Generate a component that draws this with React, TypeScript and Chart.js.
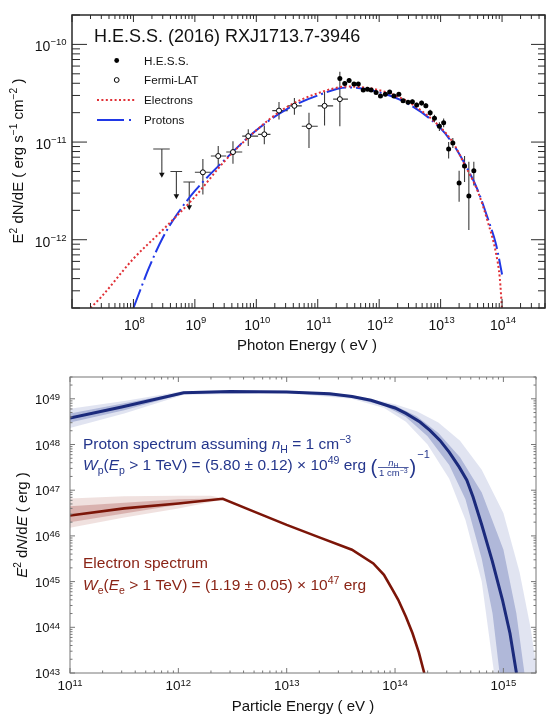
import React, { useEffect, useRef } from 'react';
import { Chart, registerables } from 'chart.js';

Chart.register(...registerables);

const FONT = '"Liberation Sans", Arial, Helvetica, sans-serif';

// ================= TOP PANEL DATA (photon SED) =================
const hessE = [2.29e11, 2.75e11, 3.24e11, 3.89e11, 4.57e11, 5.5e11, 6.46e11, 7.41e11, 8.91e11, 1.05e12, 1.26e12, 1.48e12, 1.74e12, 2.09e12, 2.45e12, 2.95e12, 3.47e12, 4.07e12, 4.9e12, 5.75e12, 6.76e12, 7.94e12, 9.55e12, 1.12e13, 1.35e13, 1.58e13, 2.0e13, 2.45e13, 2.88e13, 3.47e13];
const hessF = [4.47e-11, 3.98e-11, 4.27e-11, 3.94e-11, 3.94e-11, 3.42e-11, 3.48e-11, 3.42e-11, 3.21e-11, 2.96e-11, 3.09e-11, 3.26e-11, 2.96e-11, 3.09e-11, 2.65e-11, 2.56e-11, 2.59e-11, 2.4e-11, 2.51e-11, 2.36e-11, 2.0e-11, 1.75e-11, 1.45e-11, 1.58e-11, 8.5e-12, 9.8e-12, 3.8e-12, 5.7e-12, 2.8e-12, 5.1e-12];
const hessFLo = [4.2e-11, 3.8e-11, 4.05e-11, 3.75e-11, 3.75e-11, 3.27e-11, 3.33e-11, 3.27e-11, 3.07e-11, 2.83e-11, 2.95e-11, 3.12e-11, 2.82e-11, 2.95e-11, 2.52e-11, 2.43e-11, 2.46e-11, 2.27e-11, 2.37e-11, 2.22e-11, 1.86e-11, 1.6e-11, 1.3e-11, 1.42e-11, 6.8e-12, 8.7e-12, 2.45e-12, 3.9e-12, 1.26e-12, 3.6e-12];
const hessFHi = [4.75e-11, 4.17e-11, 4.5e-11, 4.13e-11, 4.13e-11, 3.57e-11, 3.63e-11, 3.57e-11, 3.35e-11, 3.1e-11, 3.23e-11, 3.4e-11, 3.1e-11, 3.23e-11, 2.78e-11, 2.69e-11, 2.72e-11, 2.53e-11, 2.65e-11, 2.5e-11, 2.14e-11, 1.9e-11, 1.6e-11, 1.74e-11, 1.0e-11, 1.1e-11, 5.1e-12, 7.2e-12, 6.3e-12, 6.3e-12];

const fermiE = [1.35e9, 2.4e9, 4.17e9, 7.4e9, 1.35e10, 2.34e10, 4.17e10, 7.2e10, 1.29e11, 2.29e11];
const fermiELo = [1.0e9, 1.82e9, 3.24e9, 5.9e9, 1.07e10, 1.82e10, 3.24e10, 5.5e10, 1.0e11, 1.78e11];
const fermiEHi = [1.82e9, 3.24e9, 5.9e9, 1.07e10, 1.7e10, 3.24e10, 5.5e10, 1.0e11, 1.78e11, 3.1e11];
const fermiF = [4.9e-12, 7.2e-12, 7.9e-12, 1.15e-11, 1.2e-11, 2.1e-11, 2.35e-11, 1.45e-11, 2.35e-11, 2.75e-11];
const fermiFLo = [2.9e-12, 5.6e-12, 6.0e-12, 9.1e-12, 9.5e-12, 1.7e-11, 1.9e-11, 8.7e-12, 1.48e-11, 1.45e-11];
const fermiFHi = [6.7e-12, 9.1e-12, 1.02e-11, 1.35e-11, 1.48e-11, 2.57e-11, 2.82e-11, 2.0e-11, 3.3e-11, 5.25e-11];

const ulE = [2.9e8, 5.0e8, 8.1e8];
const ulELo = [2.1e8, 4.0e8, 6.5e8];
const ulEHi = [3.9e8, 6.2e8, 1.0e9];
const ulF = [8.5e-12, 5.0e-12, 3.9e-12];
const ulTip = [4.3e-12, 2.6e-12, 2.0e-12];

const electronModelE = [2e7, 3e7, 1e8, 3e8, 1e9, 3e9, 1e10, 3e10, 1e11, 3e11, 1e12, 3e12, 1e13, 1.6e13, 2.5e13, 4e13, 6e13, 8e13, 9.2e13, 1e14];
const electronModelF = [2.0e-13, 2.6e-13, 6.4e-13, 1.26e-12, 2.75e-12, 6.3e-12, 1.32e-11, 2.24e-11, 3.16e-11, 3.7e-11, 3.4e-11, 2.57e-11, 1.41e-11, 9.8e-12, 5.75e-12, 3.16e-12, 1.45e-12, 7.2e-13, 4.0e-13, 1.9e-13];
const protonModelE = [1e8, 1.8e8, 3e8, 5e8, 1e9, 3e9, 1e10, 3e10, 1e11, 3e11, 1e12, 3e12, 1e13, 1.6e13, 2.5e13, 4e13, 6e13, 8e13, 1e14];
const protonModelF = [2.0e-13, 5.2e-13, 1.05e-12, 1.78e-12, 3.16e-12, 6.5e-12, 1.32e-11, 2.14e-11, 3.0e-11, 3.63e-11, 3.24e-11, 2.45e-11, 1.38e-11, 9.5e-12, 5.9e-12, 3.24e-12, 1.58e-12, 8.9e-13, 4.4e-13];

const topXTickVals = [1e8, 1e9, 1e10, 1e11, 1e12, 1e13, 1e14];
const topXTickExp = ['8', '9', '10', '11', '12', '13', '14'];
const topYTickVals = [1e-10, 1e-11, 1e-12];
const topYTickExp = ['\u221210', '\u221211', '\u221212'];

// ================= BOTTOM PANEL DATA (particle spectra) =================
const protonSpecE = [1e11, 3e11, 1.12e12, 3e12, 1e13, 2.5e13, 4e13, 6e13, 1e14, 1.26e14, 1.7e14, 2.1e14, 2.6e14, 3.16e14, 3.9e14, 4.6e14, 5.25e14, 6.3e14, 7.9e14, 9.8e14, 1.15e15, 1.32e15];
const protonSpecW = [3.8e48, 6.6e48, 1.35e49, 1.45e49, 1.41e49, 1.29e49, 1.12e49, 9.3e48, 6.3e48, 4.8e48, 3.1e48, 2.04e48, 1.23e48, 6.8e47, 3.24e47, 1.66e47, 7.1e46, 1.78e46, 2.8e45, 4.0e44, 7.4e43, 1.0e43];
const electronSpecE = [1e11, 3.16e11, 1e12, 2.57e12, 5e12, 1e13, 2e13, 4e13, 6.3e13, 7.9e13, 9.5e13, 1.07e14, 1.26e14, 1.45e14, 1.66e14, 1.86e14];
const electronSpecW = [2.8e46, 4.0e46, 5.1e46, 6.5e46, 3.4e46, 1.74e46, 9.3e45, 5.0e45, 2.5e45, 1.41e45, 6.6e44, 4.0e44, 1.7e44, 7.4e43, 2.8e43, 1.0e43];

// band outlines (log10 E, log10 W)
const protonBandOuter = [
  [11.0, 48.78], [11.5, 48.95], [12.05, 49.17], [13.0, 49.18], [13.6, 49.09], [14.0, 48.88], [14.2, 48.73], [14.4, 48.48], [14.6, 48.08], [14.8, 47.45], [15.0, 46.5], [15.15, 45.2], [15.25, 44.0], [15.32, 42.9],
  [14.92, 42.9], [14.8, 45.0], [14.65, 46.35], [14.5, 47.25], [14.3, 48.0], [14.1, 48.5], [13.9, 48.8], [13.6, 49.0], [13.0, 49.12], [12.05, 49.09], [11.5, 48.68], [11.0, 48.36],
];
const protonBandInner = [
  [11.0, 48.68], [11.5, 48.9], [12.05, 49.15], [13.0, 49.17], [13.6, 49.08], [14.0, 48.85], [14.2, 48.62], [14.4, 48.25], [14.6, 47.72], [14.8, 46.95], [15.0, 45.7], [15.12, 44.3], [15.2, 42.9],
  [14.97, 42.9], [14.9, 44.3], [14.8, 45.5], [14.65, 46.8], [14.5, 47.55], [14.3, 48.18], [14.1, 48.6], [13.9, 48.85], [13.6, 49.03], [13.0, 49.13], [12.05, 49.11], [11.5, 48.75], [11.0, 48.48],
];
const electronBandOuter = [
  [11.0, 46.82], [11.5, 46.87], [12.0, 46.88], [12.3, 46.88], [12.45, 46.81], [12.3, 46.74], [12.0, 46.6], [11.5, 46.4], [11.0, 46.18],
];
const electronBandInner = [
  [11.0, 46.65], [12.0, 46.8], [12.41, 46.82], [12.0, 46.68], [11.0, 46.3],
];

const botXTickVals = [1e11, 1e12, 1e13, 1e14, 1e15];
const botXTickExp = ['11', '12', '13', '14', '15'];
const botYTickVals = [1e43, 1e44, 1e45, 1e46, 1e47, 1e48, 1e49];
const botYTickExp = ['43', '44', '45', '46', '47', '48', '49'];

// ================= helpers =================
type Seg = { t: string; it?: boolean; sup?: boolean; sub?: boolean; size?: number; rise?: number };

function segFont(s: Seg, base: number) {
  const sz = s.size ?? (s.sup || s.sub ? base * 0.68 : base);
  return `${s.it ? 'italic ' : ''}${sz}px ${FONT}`;
}
function richWidth(ctx: CanvasRenderingContext2D, segs: Seg[], base: number) {
  let w = 0;
  for (const s of segs) {
    ctx.font = segFont(s, base);
    w += ctx.measureText(s.t).width;
  }
  return w;
}
function drawRich(ctx: CanvasRenderingContext2D, segs: Seg[], x: number, y: number, base: number, align: 'left' | 'center' | 'right', color: string) {
  const w = richWidth(ctx, segs, base);
  let cx = align === 'left' ? x : align === 'center' ? x - w / 2 : x - w;
  ctx.fillStyle = color;
  ctx.textAlign = 'left';
  ctx.textBaseline = 'alphabetic';
  for (const s of segs) {
    ctx.font = segFont(s, base);
    const dy = s.rise !== undefined ? -s.rise : s.sup ? -base * 0.4 : s.sub ? base * 0.25 : 0;
    ctx.fillText(s.t, cx, y + dy);
    cx += ctx.measureText(s.t).width;
  }
  return cx;
}

function logTicks(min: number, max: number) {
  const out: { v: number; major: boolean }[] = [];
  const d0 = Math.floor(Math.log10(min));
  const d1 = Math.ceil(Math.log10(max));
  for (let d = d0; d <= d1; d++) {
    for (let k = 1; k <= 9; k++) {
      const v = k * Math.pow(10, d);
      if (v >= min * 0.9999 && v <= max * 1.0001) out.push({ v, major: k === 1 });
    }
  }
  return out;
}

type TickOpts = {
  color: string; frameWidth: number; tickWidth: number;
  bMaj: number; bMin: number; tMaj: number; tMin: number;
  lMaj: number; lMin: number; rMaj: number; rMin: number;
};
function drawFrameTicks(chart: any, o: TickOpts) {
  const { ctx, chartArea: a, scales } = chart;
  const xs = scales.x, ys = scales.y;
  ctx.save();
  ctx.strokeStyle = o.color;
  ctx.lineWidth = o.tickWidth;
  ctx.beginPath();
  for (const t of logTicks(xs.min, xs.max)) {
    const p = xs.getPixelForValue(t.v);
    ctx.moveTo(p, a.bottom);
    ctx.lineTo(p, a.bottom - (t.major ? o.bMaj : o.bMin));
    ctx.moveTo(p, a.top);
    ctx.lineTo(p, a.top + (t.major ? o.tMaj : o.tMin));
  }
  for (const t of logTicks(ys.min, ys.max)) {
    const p = ys.getPixelForValue(t.v);
    ctx.moveTo(a.left, p);
    ctx.lineTo(a.left + (t.major ? o.lMaj : o.lMin), p);
    ctx.moveTo(a.right, p);
    ctx.lineTo(a.right - (t.major ? o.rMaj : o.rMin), p);
  }
  ctx.stroke();
  ctx.lineWidth = o.frameWidth;
  ctx.strokeRect(a.left, a.top, a.right - a.left, a.bottom - a.top);
  ctx.restore();
}

function drawPow(ctx: CanvasRenderingContext2D, x: number, y: number, exp: string, base: number, expSize: number, rise: number, align: 'center' | 'right', color: string) {
  const segs: Seg[] = [{ t: '10' }, { t: exp, size: expSize, rise }];
  drawRich(ctx, segs, x, y, base, align, color);
}

// ================= TOP CHART =================
function topConfig(): any {
  const decor = {
    id: 'topDecor',
    beforeDatasetsDraw(chart: any) {
      const { ctx, chartArea: a } = chart;
      const xs = chart.scales.x, ys = chart.scales.y;
      const px = (v: number) => xs.getPixelForValue(v);
      const py = (v: number) => ys.getPixelForValue(v);
      ctx.save();
      ctx.beginPath();
      ctx.rect(a.left, a.top, a.right - a.left, a.bottom - a.top);
      ctx.clip();
      ctx.strokeStyle = '#3c3c3c';
      ctx.lineWidth = 1.1;
      ctx.beginPath();
      fermiE.forEach((e, i) => {
        const x = px(e), y = py(fermiF[i]);
        ctx.moveTo(px(fermiELo[i]), y);
        ctx.lineTo(px(fermiEHi[i]), y);
        ctx.moveTo(x, py(fermiFLo[i]));
        ctx.lineTo(x, py(fermiFHi[i]));
      });
      hessE.forEach((e, i) => {
        const x = px(e);
        ctx.moveTo(x, py(hessFLo[i]));
        ctx.lineTo(x, py(hessFHi[i]));
      });
      ulE.forEach((e, i) => {
        const x = px(e), yb = py(ulF[i]), yt = py(ulTip[i]);
        ctx.moveTo(px(ulELo[i]), yb);
        ctx.lineTo(px(ulEHi[i]), yb);
        ctx.moveTo(x, yb);
        ctx.lineTo(x, yt - 4);
      });
      ctx.stroke();
      ctx.fillStyle = '#111';
      ulE.forEach((e, i) => {
        const x = px(e), yt = py(ulTip[i]);
        ctx.beginPath();
        ctx.moveTo(x - 2.8, yt - 5);
        ctx.lineTo(x + 2.8, yt - 5);
        ctx.lineTo(x, yt);
        ctx.closePath();
        ctx.fill();
      });
      ctx.restore();
    },
    afterDraw(chart: any) {
      const { ctx, chartArea: a } = chart;
      const xs = chart.scales.x, ys = chart.scales.y;
      drawFrameTicks(chart, {
        color: '#2a2a2a', frameWidth: 1.5, tickWidth: 1,
        bMaj: 9, bMin: 5, tMaj: 7, tMin: 4, lMaj: 15, lMin: 8, rMaj: 14, rMin: 7,
      });
      ctx.save();
      // tick labels
      topXTickVals.forEach((v, i) => {
        drawPow(ctx, xs.getPixelForValue(v) + 1, a.bottom + 22, topXTickExp[i], 14, 9.5, 7, 'center', '#111');
      });
      topYTickVals.forEach((v, i) => {
        drawPow(ctx, 66.5, ys.getPixelForValue(v) + 7, topYTickExp[i], 14, 9.5, 6, 'right', '#111');
      });
      // axis titles
      drawRich(ctx, [{ t: 'Photon Energy ( eV )' }], 307, 350, 15, 'center', '#111');
      ctx.save();
      ctx.translate(23, 161);
      ctx.rotate(-Math.PI / 2);
      drawRich(ctx, [
        { t: 'E' }, { t: '2', sup: true }, { t: ' dN/dE ( erg s' }, { t: '\u22121', sup: true },
        { t: ' cm' }, { t: '\u22122', sup: true }, { t: ' )' },
      ], 0, 0, 15, 'center', '#111');
      ctx.restore();
      // title
      drawRich(ctx, [{ t: 'H.E.S.S. (2016) RXJ1713.7-3946' }], 94, 42, 18, 'left', '#111');
      // legend
      const lx = 144;
      drawRich(ctx, [{ t: 'H.E.S.S.' }], lx, 65, 11.7, 'left', '#111');
      drawRich(ctx, [{ t: 'Fermi-LAT' }], lx, 84, 11.7, 'left', '#111');
      drawRich(ctx, [{ t: 'Electrons' }], lx, 104, 11.7, 'left', '#111');
      drawRich(ctx, [{ t: 'Protons' }], lx, 124, 11.7, 'left', '#111');
      ctx.fillStyle = '#000';
      ctx.beginPath();
      ctx.arc(116.7, 60.5, 2.4, 0, Math.PI * 2);
      ctx.fill();
      ctx.strokeStyle = '#000';
      ctx.lineWidth = 1;
      ctx.beginPath();
      ctx.arc(116.7, 80, 2.4, 0, Math.PI * 2);
      ctx.stroke();
      ctx.strokeStyle = '#e03036';
      ctx.lineWidth = 2;
      ctx.setLineDash([2, 2.4]);
      ctx.beginPath();
      ctx.moveTo(97, 100);
      ctx.lineTo(135, 100);
      ctx.stroke();
      ctx.setLineDash([]);
      ctx.strokeStyle = '#2038e6';
      ctx.beginPath();
      ctx.moveTo(97, 120);
      ctx.lineTo(124, 120);
      ctx.moveTo(129, 120);
      ctx.lineTo(131, 120);
      ctx.stroke();
      ctx.restore();
    },
  };

  return {
    type: 'line',
    data: {
      datasets: [
        {
          label: 'H.E.S.S.',
          data: hessE.map((x, i) => ({ x, y: hessF[i] })),
          showLine: false, pointRadius: 2.5, pointBackgroundColor: '#000', pointBorderColor: '#000', pointBorderWidth: 0,
        },
        {
          label: 'Fermi-LAT',
          data: fermiE.map((x, i) => ({ x, y: fermiF[i] })),
          showLine: false, pointRadius: 2.5, pointBackgroundColor: '#fff', pointBorderColor: '#000', pointBorderWidth: 1,
        },
        {
          label: 'Electrons',
          data: electronModelE.map((x, i) => ({ x, y: electronModelF[i] })),
          borderColor: '#e03036', borderWidth: 2, borderDash: [2, 2.4], pointRadius: 0,
          cubicInterpolationMode: 'monotone', fill: false,
        },
        {
          label: 'Protons',
          data: protonModelE.map((x, i) => ({ x, y: protonModelF[i] })),
          borderColor: '#2038e6', borderWidth: 2, borderDash: [20, 4, 2, 4], pointRadius: 0,
          cubicInterpolationMode: 'monotone', fill: false,
        },
      ],
    },
    options: {
      responsive: false,
      animation: false,
      events: [],
      layout: { padding: { left: 72, right: 5, top: 15, bottom: 54 } },
      scales: {
        x: { type: 'logarithmic', min: 1e7, max: 5e14, display: false },
        y: { type: 'logarithmic', min: 2e-13, max: 2e-10, display: false },
      },
      plugins: { legend: { display: false }, tooltip: { enabled: false } },
    },
    plugins: [decor],
  };
}

// ================= BOTTOM CHART =================
function botConfig(): any {
  const pColor = '#24368c';
  const eColor = '#8a2416';
  const decor = {
    id: 'botDecor',
    beforeDatasetsDraw(chart: any) {
      const { ctx, chartArea: a } = chart;
      const xs = chart.scales.x, ys = chart.scales.y;
      const poly = (pts: number[][], fill: string) => {
        ctx.beginPath();
        pts.forEach((p, i) => {
          const X = xs.getPixelForValue(Math.pow(10, p[0]));
          const Y = ys.getPixelForValue(Math.pow(10, p[1]));
          if (i === 0) ctx.moveTo(X, Y); else ctx.lineTo(X, Y);
        });
        ctx.closePath();
        ctx.fillStyle = fill;
        ctx.fill();
      };
      ctx.save();
      ctx.beginPath();
      ctx.rect(a.left, a.top, a.right - a.left, a.bottom - a.top);
      ctx.clip();
      poly(protonBandOuter, 'rgba(70, 90, 165, 0.16)');
      poly(protonBandInner, 'rgba(70, 90, 165, 0.32)');
      poly(electronBandOuter, 'rgba(150, 40, 30, 0.14)');
      poly(electronBandInner, 'rgba(150, 40, 30, 0.25)');
      ctx.restore();
    },
    afterDraw(chart: any) {
      const { ctx, chartArea: a } = chart;
      const xs = chart.scales.x, ys = chart.scales.y;
      drawFrameTicks(chart, {
        color: '#777', frameWidth: 1, tickWidth: 1,
        bMaj: 5, bMin: 2.5, tMaj: 5, tMin: 2.5, lMaj: 5, lMin: 2.5, rMaj: 5, rMin: 2.5,
      });
      ctx.save();
      botXTickVals.forEach((v, i) => {
        drawPow(ctx, xs.getPixelForValue(v), a.bottom + 16.5, botXTickExp[i], 13.5, 9.5, 4, 'center', '#111');
      });
      botYTickVals.forEach((v, i) => {
        drawPow(ctx, 60, ys.getPixelForValue(v) + 5, botYTickExp[i], 13, 9.5, 3.5, 'right', '#111');
      });
      drawRich(ctx, [{ t: 'Particle Energy ( eV )' }], 303, 349, 15, 'center', '#111');
      ctx.save();
      ctx.translate(27, 163);
      ctx.rotate(-Math.PI / 2);
      drawRich(ctx, [
        { t: 'E', it: true }, { t: '2', sup: true }, { t: ' d' }, { t: 'N', it: true },
        { t: '/d' }, { t: 'E', it: true }, { t: ' ( erg )' },
      ], 0, 0, 15, 'center', '#111');
      ctx.restore();

      // Proton annotation
      const fs = 15.5;
      drawRich(ctx, [
        { t: 'Proton spectrum assuming ' }, { t: 'n', it: true }, { t: 'H', sub: true },
        { t: ' = 1 cm' }, { t: '\u22123', sup: true },
      ], 83, 87, fs, 'left', pColor);
      const y2 = 108;
      let xe = drawRich(ctx, [
        { t: 'W', it: true }, { t: 'p', sub: true }, { t: '(' }, { t: 'E', it: true }, { t: 'p', sub: true },
        { t: ' > 1 TeV) = (5.80 \u00b1 0.12) \u00d7 10' }, { t: '49', sup: true }, { t: ' erg ' },
      ], 83, y2, fs, 'left', pColor);
      ctx.fillStyle = pColor;
      ctx.font = `20px ${FONT}`;
      ctx.fillText('(', xe, y2 + 4);
      xe += ctx.measureText('(').width + 1;
      const numW = richWidth(ctx, [{ t: 'n', it: true, size: 9.5 }, { t: 'H', size: 7, rise: -2 }], 9.5);
      const denW = richWidth(ctx, [{ t: '1 cm', size: 9.5 }, { t: '\u22123', size: 7, rise: 3 }], 9.5);
      const fw = Math.max(numW, denW) + 2;
      drawRich(ctx, [{ t: 'n', it: true, size: 9.5 }, { t: 'H', size: 7, rise: -2 }], xe + fw / 2, y2 - 4.5, 9.5, 'center', pColor);
      ctx.strokeStyle = pColor;
      ctx.lineWidth = 0.8;
      ctx.beginPath();
      ctx.moveTo(xe, y2 - 2.5);
      ctx.lineTo(xe + fw, y2 - 2.5);
      ctx.stroke();
      drawRich(ctx, [{ t: '1 cm', size: 9.5 }, { t: '\u22123', size: 7, rise: 3 }], xe + fw / 2, y2 + 6, 9.5, 'center', pColor);
      xe += fw + 1;
      ctx.font = `20px ${FONT}`;
      ctx.fillStyle = pColor;
      ctx.fillText(')', xe, y2 + 4);
      xe += ctx.measureText(')').width;
      drawRich(ctx, [{ t: '\u22121', size: 11 }], xe + 1, y2 - 12, 11, 'left', pColor);

      // Electron annotation
      drawRich(ctx, [{ t: 'Electron spectrum' }], 83, 206, fs, 'left', eColor);
      drawRich(ctx, [
        { t: 'W', it: true }, { t: 'e', sub: true }, { t: '(' }, { t: 'E', it: true }, { t: 'e', sub: true },
        { t: ' > 1 TeV) = (1.19 \u00b1 0.05) \u00d7 10' }, { t: '47', sup: true }, { t: ' erg' },
      ], 83, 228, fs, 'left', eColor);
      ctx.restore();
    },
  };

  return {
    type: 'line',
    data: {
      datasets: [
        {
          label: 'Proton spectrum',
          data: protonSpecE.map((x, i) => ({ x, y: protonSpecW[i] })),
          borderColor: '#1b2a7c', borderWidth: 3, pointRadius: 0, tension: 0, fill: false,
        },
        {
          label: 'Electron spectrum',
          data: electronSpecE.map((x, i) => ({ x, y: electronSpecW[i] })),
          borderColor: '#7c1508', borderWidth: 2.6, pointRadius: 0, tension: 0, fill: false,
        },
      ],
    },
    options: {
      responsive: false,
      animation: false,
      events: [],
      layout: { padding: { left: 70, right: 14, top: 15, bottom: 51 } },
      scales: {
        x: { type: 'logarithmic', min: 1e11, max: 2e15, display: false },
        y: { type: 'logarithmic', min: 1e43, max: 3e49, display: false },
      },
      plugins: { legend: { display: false }, tooltip: { enabled: false } },
    },
    plugins: [decor],
  };
}

export default function App() {
  const topRef = useRef<HTMLCanvasElement>(null);
  const botRef = useRef<HTMLCanvasElement>(null);
  useEffect(() => {
    const c1 = new Chart(topRef.current as HTMLCanvasElement, topConfig());
    const c2 = new Chart(botRef.current as HTMLCanvasElement, botConfig());
    return () => {
      c1.destroy();
      c2.destroy();
    };
  }, []);
  return (
    <div style={{ position: 'absolute', left: 0, top: 0, width: 550, height: 724, background: '#fff' }}>
      <canvas ref={topRef} width={550} height={362} style={{ position: 'absolute', left: 0, top: 0, width: 550, height: 362 }} />
      <canvas ref={botRef} width={550} height={362} style={{ position: 'absolute', left: 0, top: 362, width: 550, height: 362 }} />
    </div>
  );
}
